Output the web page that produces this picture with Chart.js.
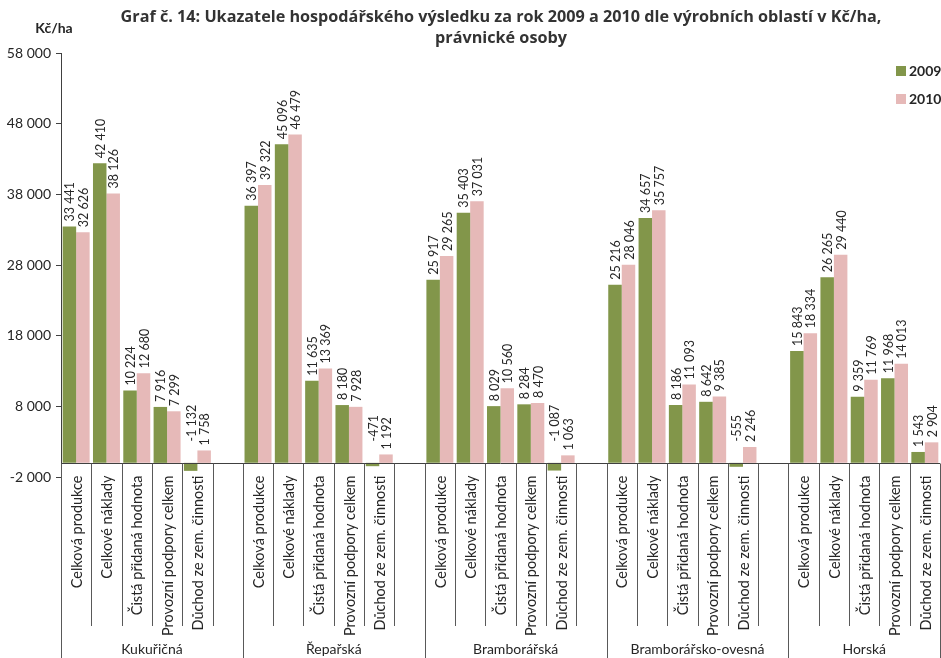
<!DOCTYPE html>
<html lang="cs">
<head>
<meta charset="UTF-8">
<title>Graf č. 14</title>
<script src="https://cdn.jsdelivr.net/npm/chart.js@4.4.0/dist/chart.umd.min.js"></script>
<style>
    body { margin: 0; background: #fff; }
    .wrap { width: 941px; height: 658px; }
</style>
</head>
<body>
<div class="wrap"><canvas id="graf" width="941" height="658"></canvas></div>
<script>
    const regions = ['Kukuřičná', 'Řepařská', 'Bramborářská', 'Bramborářsko-ovesná', 'Horská'];
    const indicators = ['Celková produkce', 'Celkové náklady', 'Čistá přidaná hodnota', 'Provozní podpory celkem', 'Důchod ze zem. činnosti'];
    const seriesNames = ['2009', '2010'];
    // po oblastech, v pořadí ukazatelů
    const values2009 = [
        33441, 42410, 10224, 7916, -1132,
        36397, 45096, 11635, 8180, -471,
        25917, 35403, 8029, 8284, -1087,
        25216, 34657, 8186, 8642, -555,
        15843, 26265, 9359, 11968, 1543
    ];
    const values2010 = [
        32626, 38126, 12680, 7299, 1758,
        39322, 46479, 13369, 7928, 1192,
        29265, 37031, 10560, 8470, 1063,
        28046, 35757, 11093, 9385, 2246,
        18334, 29440, 11769, 14013, 2904
    ];
    const yTicks = [-2000, 8000, 18000, 28000, 38000, 48000, 58000];

    const green = '#82964a';
    const pink = '#e6b9b8';
    const textCol = '#262626';
    const font = 'Lato, "Open Sans", sans-serif';

    // sloty: 5 ukazatelů + prázdný slot mezi oblastmi
    const slotLabels = [], slotRegion = [], data09 = [], data10 = [];
    regions.forEach((r, gi) => {
        indicators.forEach((ind, ii) => {
            slotLabels.push(ind);
            slotRegion.push(gi);
            data09.push(values2009[gi * indicators.length + ii]);
            data10.push(values2010[gi * indicators.length + ii]);
        });
        if (gi < regions.length - 1) {
            slotLabels.push('');
            slotRegion.push(gi);
            data09.push(null);
            data10.push(null);
        }
    });

    function fmt(v) {
        const s = Math.abs(Math.round(v)).toString().replace(/\B(?=(\d{3})+(?!\d))/g, ' ');
        return (v < 0 ? '-' : '') + s;
    }

    const overlay = {
        id: 'overlay',
        afterDraw(chart) {
            const ctx = chart.ctx;
            const area = chart.chartArea;
            const xs = chart.scales.x, ys = chart.scales.y;
            const zeroY = Math.round(ys.getPixelForValue(0)) + 0.5;
            const half = (xs.getPixelForValue(1) - xs.getPixelForValue(0)) / 2;
            const H = chart.height;
            ctx.save();

            // osa x v nule
            ctx.strokeStyle = '#404040';
            ctx.lineWidth = 1;
            ctx.beginPath();
            ctx.moveTo(area.left, zeroY);
            ctx.lineTo(area.right, zeroY);
            ctx.stroke();

            // oddělovače popisků
            ctx.strokeStyle = '#595959';
            for (let i = 0; i <= slotLabels.length; i++) {
                const px = Math.round(i < slotLabels.length ? xs.getPixelForValue(i) - half : xs.getPixelForValue(i - 1) + half) + 0.5;
                const groupEdge = i === 0 || i === slotLabels.length || slotRegion[i] !== slotRegion[i - 1];
                ctx.beginPath();
                ctx.moveTo(px, zeroY);
                ctx.lineTo(px, groupEdge ? H : 626);
                ctx.stroke();
            }

            // popisky ukazatelů (svisle)
            ctx.fillStyle = textCol;
            ctx.font = '14.5px ' + font;
            ctx.textAlign = 'right';
            ctx.textBaseline = 'middle';
            slotLabels.forEach((lab, i) => {
                if (!lab) return;
                ctx.save();
                ctx.translate(xs.getPixelForValue(i) + 1, zeroY + 12);
                ctx.rotate(-Math.PI / 2);
                ctx.fillText(lab, 0, 0);
                ctx.restore();
            });

            // názvy oblastí
            ctx.font = '14px ' + font;
            ctx.textAlign = 'center';
            regions.forEach((r, gi) => {
                const first = slotRegion.indexOf(gi);
                const last = first + indicators.length - 1;
                const cx = (xs.getPixelForValue(first) - half + (gi < regions.length - 1 ? xs.getPixelForValue(last + 1) + half : xs.getPixelForValue(last) + half)) / 2;
                ctx.fillText(r, cx, 649);
            });

            // hodnoty nad sloupci
            ctx.font = '12.5px ' + font;
            ctx.textAlign = 'left';
            [data09, data10].forEach((arr, d) => {
                const meta = chart.getDatasetMeta(d);
                arr.forEach((v, i) => {
                    if (v === null) return;
                    const bar = meta.data[i];
                    const by = v >= 0 ? bar.y - 5 : zeroY - 22;
                    ctx.save();
                    ctx.translate(bar.x + 1, by);
                    ctx.rotate(-Math.PI / 2);
                    ctx.fillText(fmt(v), 0, 0);
                    ctx.restore();
                });
            });

            // titulek
            ctx.fillStyle = '#333';
            ctx.font = 'bold 16.2px "Open Sans", sans-serif';
            ctx.textAlign = 'center';
            ctx.fillText('Graf č. 14: Ukazatele hospodářského výsledku za rok 2009 a 2010 dle výrobních oblastí v Kč/ha,', 501, 17);
            ctx.fillText('právnické osoby', 501, 38);

            // jednotka osy y
            ctx.fillStyle = textCol;
            ctx.font = 'bold 14px ' + font;
            ctx.fillText('Kč/ha', 54, 28);

            // legenda
            ctx.textAlign = 'left';
            [green, pink].forEach((c, k) => {
                const ly = 71 + k * 28;
                ctx.fillStyle = c;
                ctx.fillRect(896, ly - 5, 10, 10);
                ctx.fillStyle = textCol;
                ctx.fillText(seriesNames[k], 909, ly);
            });
            ctx.restore();
        }
    };

    new Chart(document.getElementById('graf'), {
        type: 'bar',
        data: {
            labels: slotLabels,
            datasets: [
                { label: seriesNames[0], data: data09, backgroundColor: green },
                { label: seriesNames[1], data: data10, backgroundColor: pink }
            ]
        },
        options: {
            responsive: false,
            animation: false,
            layout: { padding: { top: 53, right: 1, bottom: 181, left: 0 } },
            datasets: { bar: { barPercentage: 1, categoryPercentage: 0.89, borderWidth: 0 } },
            plugins: { legend: { display: false }, title: { display: false }, tooltip: { enabled: false } },
            scales: {
                x: { display: false },
                y: {
                    min: -2000,
                    max: 58000,
                    afterBuildTicks: s => { s.ticks = yTicks.map(v => ({ value: v })); },
                    afterFit: s => { s.width = 61; },
                    grid: { drawOnChartArea: false, drawTicks: true, tickLength: 5, color: '#404040' },
                    border: { color: '#404040' },
                    ticks: { color: textCol, font: { family: font, size: 14 }, padding: 5, callback: v => fmt(v) }
                }
            }
        },
        plugins: [overlay]
    });
</script>
</body>
</html>
